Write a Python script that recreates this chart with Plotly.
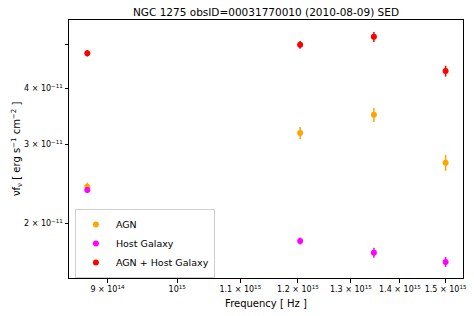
import plotly.graph_objects as go

freq = [8.73e14, 1.204e15, 1.346e15, 1.50e15]
agn = [2.414e-11, 3.18e-11, 3.49e-11, 2.73e-11]
agn_err = [5.0e-13, 9.8e-13, 1.25e-12, 1.12e-12]
host = [2.373e-11, 1.826e-11, 1.72e-11, 1.64e-11]
host_err = [3.6e-13, 3.3e-13, 4.4e-13, 4.2e-13]
total = [4.79e-11, 5.0e-11, 5.21e-11, 4.37e-11]
total_err = [8.0e-13, 1.0e-12, 1.34e-12, 1.23e-12]

xtick_vals = [9e14, 1e15, 1.1e15, 1.2e15, 1.3e15, 1.4e15, 1.5e15]
xtick_text = ["9 × 10<sup>14</sup>", "10<sup>15</sup>", "1.1 × 10<sup>15</sup>", "1.2 × 10<sup>15</sup>",
              "1.3 × 10<sup>15</sup>", "1.4 × 10<sup>15</sup>", "1.5 × 10<sup>15</sup>"]
ytick_vals = [2e-11, 3e-11, 4e-11, 5e-11]
ytick_text = ["2 × 10<sup>−11</sup>", "3 × 10<sup>−11</sup>", "4 × 10<sup>−11</sup>", ""]

series = [
    ("AGN", agn, agn_err, "#FFA500"),
    ("Host Galaxy", host, host_err, "#FF00FF"),
    ("AGN + Host Galaxy", total, total_err, "#FF0000"),
]

fig = go.Figure()
for name, vals, errs, col in series:
    fig.add_trace(go.Scatter(
        x=freq, y=vals, mode="markers", name=name,
        marker=dict(color=col, size=6),
        error_y=dict(type="data", array=errs, visible=True, color=col, thickness=1.5, width=0),
    ))

font = "DejaVu Sans"
fig.update_layout(
    width=474, height=316,
    margin=dict(l=69, r=11, t=20, b=38),
    paper_bgcolor="white", plot_bgcolor="white",
    font=dict(family=font, size=10, color="black"),
    title=dict(text="NGC 1275 obsID=00031770010 (2010-08-09) SED", x=(69 + 463) / 2 / 474,
               xanchor="center", y=1 - 12 / 316, yanchor="middle", font=dict(size=10.5)),
    showlegend=True,
    legend=dict(x=0.015, y=0.0, xanchor="left", yanchor="bottom",
                bordercolor="#d0d0d0", borderwidth=1, bgcolor="rgba(255,255,255,0.8)",
                font=dict(size=9.5), tracegroupgap=0),
)
fig.add_annotation(
    text="νf<sub>ν</sub> [ erg s<sup>−1</sup> cm<sup>−2</sup> ]", textangle=-90,
    xref="paper", yref="paper", x=(17 - 69) / 394, y=0.5, xanchor="center", yanchor="middle",
    showarrow=False, font=dict(size=10),
)
fig.update_xaxes(
    type="log", range=[14.929, 15.1875], automargin=False, tickangle=0,
    tickvals=xtick_vals, ticktext=xtick_text, tickfont=dict(size=8),
    showgrid=False, zeroline=False, showline=True, mirror=True, linecolor="black", linewidth=1,
    ticks="outside", ticklen=3.5, tickcolor="black",
    title=dict(text="Frequency [ Hz ]", font=dict(size=10), standoff=6),
)
fig.update_yaxes(
    type="log", range=[-10.821, -10.2456], automargin=False,
    tickvals=ytick_vals, ticktext=ytick_text, tickfont=dict(size=8),
    showgrid=False, zeroline=False, showline=True, mirror=True, linecolor="black", linewidth=1,
    ticks="outside", ticklen=3.5, tickcolor="black",
)

fig.write_html("out.html", config={"displayModeBar": False},
               post_script="document.body.style.margin='0';document.body.style.overflow='hidden';")
